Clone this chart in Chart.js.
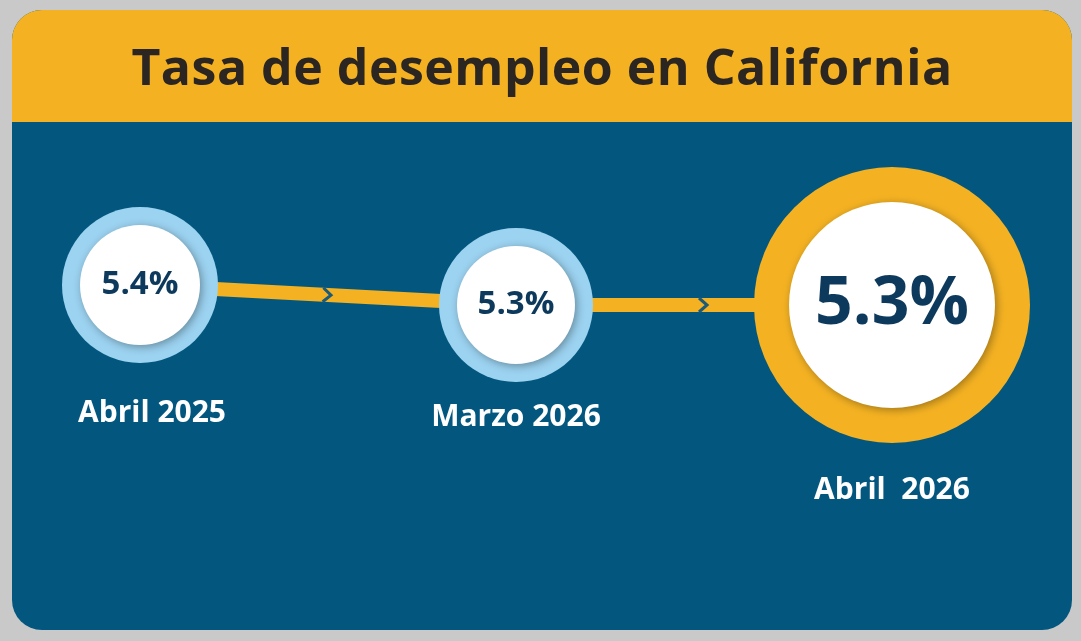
<!DOCTYPE html>
<html><head><meta charset="utf-8">
<script src="https://cdn.jsdelivr.net/npm/chart.js@4"></script>
<style>
html,body{margin:0;padding:0;width:1081px;height:641px;overflow:hidden;background:#c9c9c9;font-family:"Open Sans",sans-serif;}
#card{position:absolute;left:12px;top:10px;width:1060px;height:620px;border-radius:30px;overflow:hidden;background:#03577f;}
#head{position:absolute;left:0;top:0;width:100%;height:112px;background:#f4b223;}
#head h1{margin:0;text-align:center;line-height:112px;font-size:50px;font-weight:700;color:#2b2622;letter-spacing:0.5px;}
#wrap{position:absolute;left:0;top:0;width:1081px;height:641px;}
</style></head><body>
<div id="card"><div id="head"><h1>Tasa de desempleo en California</h1></div></div>
<div id="wrap"><canvas id="c" width="1081" height="641"></canvas></div>
<script>
const categories = ["Abril 2025", "Marzo 2026", "Abril  2026"];
const rates = [5.4, 5.3, 5.3];
const valueLabels = ["5.4%", "5.3%", "5.3%"];

const ringColors = ["#9cd3f1", "#9cd3f1", "#f4b223"];
const outerR = [78, 77, 138];
const innerR = [60, 59, 103];
const fontSizes = [33, 33, 66];
const labelOffset = [128, 112, 185];

const rings = {
  id: 'rings',
  afterDatasetsDraw(chart) {
    const ctx = chart.ctx;
    const meta = chart.getDatasetMeta(0);
    ctx.save();
    ctx.strokeStyle = '#1c5a7a'; ctx.lineWidth = 3;
    for (let i = 0; i < meta.data.length - 1; i++) {
      const a = meta.data[i], b = meta.data[i+1];
      const ang = Math.atan2(b.y - a.y, b.x - a.x);
      const x = a.x + (b.x - a.x) * 0.5, y = a.y + (b.y - a.y) * 0.5;
      ctx.save(); ctx.translate(x, y); ctx.rotate(ang);
      ctx.beginPath(); ctx.moveTo(-5, -7); ctx.lineTo(3, 0); ctx.lineTo(-5, 7); ctx.stroke();
      ctx.restore();
    }
    ctx.restore();
    meta.data.forEach((p, i) => {
      ctx.save();
      ctx.beginPath(); ctx.arc(p.x, p.y, outerR[i], 0, Math.PI*2);
      ctx.fillStyle = ringColors[i]; ctx.fill();
      ctx.shadowColor = 'rgba(0,0,0,0.35)'; ctx.shadowBlur = 8; ctx.shadowOffsetX = 2; ctx.shadowOffsetY = 2;
      ctx.beginPath(); ctx.arc(p.x, p.y, innerR[i], 0, Math.PI*2);
      ctx.fillStyle = '#ffffff'; ctx.fill();
      ctx.restore();
      ctx.save();
      ctx.fillStyle = '#0d3a5c'; ctx.textAlign = 'center'; ctx.textBaseline = 'middle';
      ctx.font = '700 ' + fontSizes[i] + 'px "Open Sans"';
      ctx.fillText(valueLabels[i], p.x, p.y);
      ctx.fillStyle = '#ffffff'; ctx.font = '700 30px "Open Sans"';
      ctx.fillText(categories[i], p.x + (i === 0 ? 12 : 0), p.y + labelOffset[i]);
      ctx.restore();
    });
  }
};

new Chart(document.getElementById('c'), {
  type: 'line',
  data: { labels: categories, datasets: [{ data: rates, borderColor: '#f4b223', borderWidth: 14, pointRadius: 0, tension: 0 }] },
  options: {
    responsive: false, animation: false,
    layout: { padding: { left: 140, right: 189, top: 165, bottom: 76 } },
    plugins: { legend: { display: false }, tooltip: { enabled: false } },
    scales: {
      x: { display: false, offset: false },
      y: { display: false, min: 4.0, max: 6.0 }
    }
  },
  plugins: [rings]
});
</script>
</body></html>
